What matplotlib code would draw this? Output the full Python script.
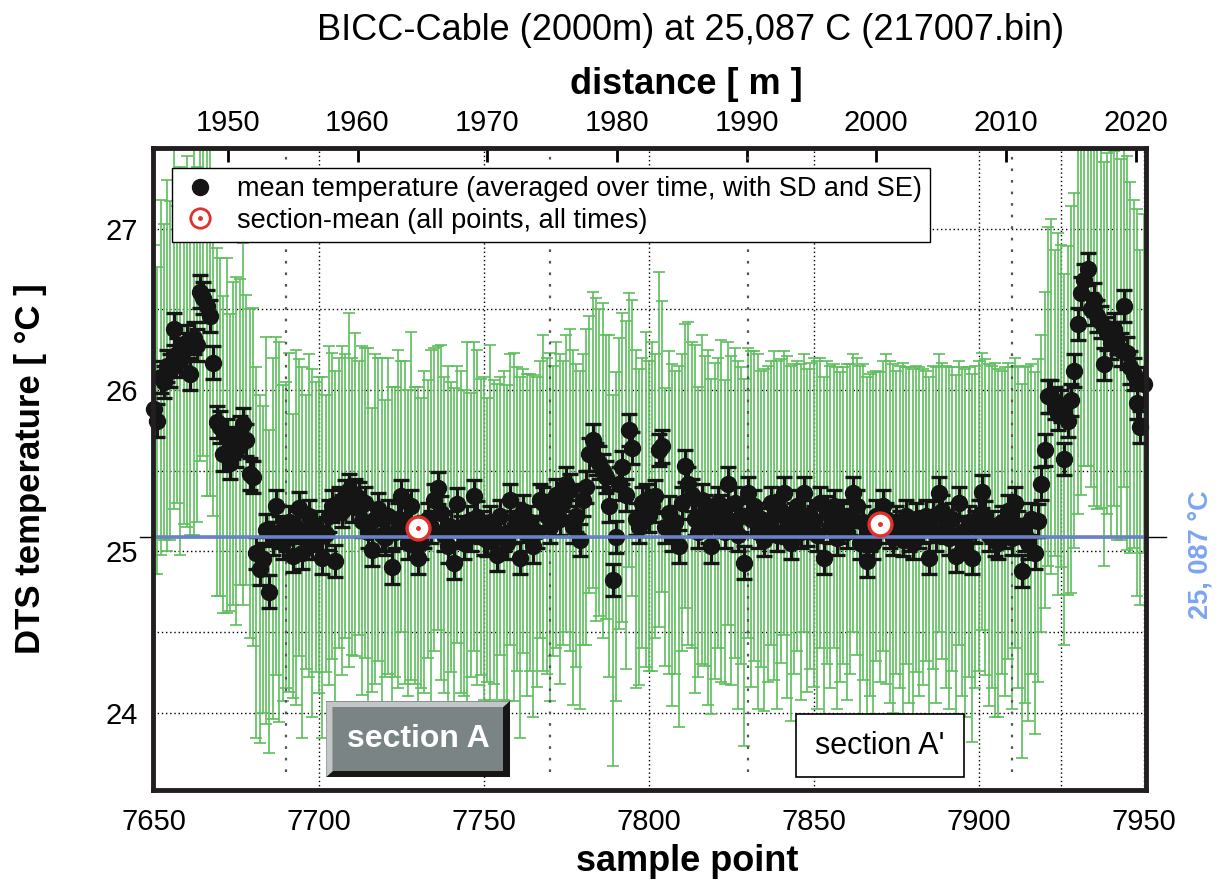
import numpy as np
import matplotlib
matplotlib.use("Agg")
import matplotlib.pyplot as plt
from matplotlib.lines import Line2D
from matplotlib.patches import Rectangle, Polygon
from matplotlib.ticker import MultipleLocator

plt.rcParams['font.family'] = ['Liberation Sans', 'DejaVu Sans']

# mean temperature per sample point, starting at sample 7650
first_sample = 7650
mean_temp = [
    25.88, 25.81, 26.08, 26.05, 26.15, 26.12, 26.38, 26.22, 26.18, 26.25,
    26.30, 26.10, 26.32, 26.28, 26.61, 26.57, 26.52, 26.46, 26.17, 25.80,
    25.77, 25.60, 25.72, 25.55, 25.67, 25.62, 25.74, 25.79, 25.69, 25.48,
    25.46, 24.99, 24.89, 24.95, 25.13, 24.75, 25.08, 25.28, 25.12, 25.05,
    25.10, 25.18, 24.97, 25.15, 25.27, 24.99, 25.12, 25.22, 25.05, 25.15,
    25.10, 24.96, 25.11, 25.22, 25.28, 24.94, 25.30, 25.25, 25.34, 25.38,
    25.28, 25.35, 25.33, 25.19, 25.30, 25.12, 25.01, 25.20, 25.26, 25.10,
    25.08, 25.22, 24.90, 25.12, 25.20, 25.34, 25.18, 25.05, 25.28, 25.10,
    24.96, 25.05, 25.12, 25.20, 25.15, 25.32, 25.39, 25.24, 25.10, 25.03,
    25.15, 24.93, 25.29, 25.12, 25.05, 25.18, 25.10, 25.34, 25.21, 25.15,
    25.08, 25.07, 25.18, 25.12, 24.98, 25.22, 25.10, 25.05, 25.32, 25.15,
    25.20, 24.96, 25.25, 25.10, 25.18, 25.03, 25.12, 25.32, 25.30, 25.22,
    25.15, 25.25, 25.35, 25.20, 25.30, 25.42, 25.38, 25.15, 25.22, 25.07,
    25.32, 25.40, 25.60, 25.69, 25.57, 25.55, 25.50, 25.46, 25.28, 24.82,
    25.09, 25.42, 25.52, 25.35, 25.75, 25.64, 25.20, 25.15, 25.30, 25.32,
    25.22, 25.28, 25.34, 25.63, 25.65, 25.15, 25.24, 25.10, 25.18, 25.03,
    25.30, 25.53, 25.42, 25.35, 25.20, 25.12, 25.32, 25.25, 25.15, 25.03,
    25.19, 25.30, 25.25, 25.12, 25.42, 25.19, 25.30, 25.10, 25.22, 24.93,
    25.36, 25.20, 25.28, 25.12, 25.20, 25.07, 25.17, 25.30, 25.22, 25.10,
    25.25, 25.36, 25.15, 25.05, 25.20, 25.28, 25.12, 25.36, 25.13, 25.22,
    25.18, 25.10, 25.30, 24.96, 25.24, 25.15, 25.28, 25.08, 25.15, 25.22,
    25.12, 25.20, 25.36, 25.28, 25.05, 25.18, 24.94, 25.10, 25.05, 25.22,
    25.15, 25.28, 25.20, 25.12, 25.08, 25.18, 25.15, 25.07, 25.22, 25.10,
    25.05, 25.20, 25.12, 25.15, 25.22, 24.96, 25.21, 25.10, 25.36, 25.25,
    25.15, 25.08, 25.20, 24.97, 25.30, 25.12, 25.05, 25.18, 24.96, 25.15,
    25.22, 25.37, 25.21, 25.10, 25.15, 25.07, 25.05, 25.18, 25.12, 25.25,
    25.08, 25.30, 25.15, 24.88, 25.10, 25.05, 25.20, 24.99, 25.19, 25.42,
    25.63, 25.96, 25.96, 25.92, 25.85, 25.90, 25.57, 25.81, 25.94, 26.12,
    26.41, 26.60, 26.68, 26.75, 26.50, 26.56, 26.46, 26.42, 26.16, 26.35,
    26.29, 26.38, 26.32, 26.25, 26.52, 26.23, 26.14, 26.10, 25.92, 25.77,
    26.04,
]

# standard deviation over time (green bars)
sd_temp = [
    1.02, 0.95, 1.10, 0.98, 1.15, 1.05, 1.12, 0.92, 1.20, 1.08,
    1.15, 1.00, 1.22, 1.10, 1.05, 0.98, 1.18, 1.12, 0.95, 1.08,
    1.05, 0.98, 1.10, 0.92, 1.00, 1.08, 0.95, 1.12, 0.90, 1.02,
    1.05, 1.15, 1.08, 0.95, 1.20, 1.00, 1.12, 1.05, 1.18, 0.98,
    0.95, 1.05, 0.88, 1.10, 0.92, 1.15, 0.85, 1.00, 1.08, 0.90,
    0.98, 1.12, 0.86, 1.05, 0.95, 1.18, 0.90, 1.02, 0.88, 1.10,
    0.92, 1.00, 0.85, 1.08, 0.96, 1.14, 0.88, 1.02, 0.94, 1.10,
    0.86, 0.98, 1.12, 0.90, 1.05, 0.84, 1.00, 0.95, 1.08, 0.92,
    1.06, 0.90, 1.00, 0.86, 1.10, 0.94, 0.88, 1.04, 0.98, 1.12,
    0.90, 1.08, 0.86, 1.00, 0.95, 1.12, 0.88, 0.96, 1.04, 0.92,
    1.00, 0.88, 1.10, 0.94, 1.06, 0.86, 1.02, 0.98, 0.90, 1.08,
    0.94, 1.12, 0.88, 1.00, 0.92, 1.06, 0.96, 0.86, 1.04, 0.98,
    1.08, 0.90, 0.95, 1.02, 0.88, 0.92, 1.00, 1.10, 0.94, 1.05,
    0.90, 0.98, 0.86, 0.92, 1.00, 0.95, 1.04, 0.88, 1.06, 1.15,
    1.02, 0.90, 0.96, 1.08, 0.85, 0.92, 1.05, 0.98, 0.90, 1.04,
    0.96, 1.02, 0.88, 1.10, 0.90, 0.86, 1.00, 1.06, 0.94, 1.12,
    0.92, 0.88, 1.00, 0.95, 1.08, 0.90, 1.02, 0.96, 1.10, 1.04,
    0.98, 0.90, 1.06, 0.94, 0.88, 1.02, 0.96, 1.08, 0.92, 1.14,
    0.90, 1.04, 0.96, 1.10, 0.92, 1.06, 0.98, 0.88, 1.02, 1.08,
    0.94, 0.88, 1.06, 1.10, 0.96, 0.90, 1.04, 0.86, 1.00, 0.95,
    1.02, 1.08, 0.90, 1.12, 0.94, 1.00, 0.88, 1.06, 0.96, 0.92,
    1.04, 0.96, 0.86, 0.92, 1.10, 0.98, 1.14, 1.00, 1.06, 0.90,
    0.96, 0.90, 1.02, 1.06, 1.08, 0.94, 1.00, 1.10, 0.92, 1.04,
    1.08, 0.95, 1.02, 0.98, 0.90, 1.12, 0.94, 1.04, 0.86, 0.92,
    1.00, 1.06, 0.94, 1.12, 0.88, 1.02, 1.08, 0.96, 1.14, 1.00,
    0.96, 0.86, 0.98, 1.06, 1.00, 1.10, 1.08, 0.94, 1.02, 0.92,
    1.06, 0.90, 1.00, 1.16, 1.04, 1.10, 0.96, 1.12, 1.00, 0.92,
    0.98, 1.05, 1.10, 0.95, 1.12, 1.00, 1.15, 1.08, 1.20, 1.10,
    1.18, 1.25, 1.15, 1.22, 1.10, 1.28, 1.20, 1.15, 1.25, 1.12,
    1.20, 1.10, 1.25, 1.18, 1.12, 1.22, 1.15, 1.08, 1.20, 1.10,
    1.05,
]

se_temp = 0.10          # half length of the black bars
ref_temp = 25.087       # overall mean, blue line

sections = [(7690, 7770), (7830, 7910)]
section_mean = [25.145, 25.17]
section_names = ["section A", "section A'"]

dist_ticks = [1950, 1960, 1970, 1980, 1990, 2000, 2010, 2020]
# sample 7672.4 corresponds to 1950 m, 0.2544 m per sample
dist_ref_sample = 7672.4
dist_ref_m = 1950
m_per_sample = 0.2544

samples = np.arange(first_sample, first_sample + len(mean_temp))

fig = plt.figure(figsize=(12.26, 8.85), dpi=100)
ax = fig.add_axes([0.1248, 0.1073, 0.8099, 0.7255])

# SD bars
ax.errorbar(samples, mean_temp, yerr=sd_temp, fmt='none', ecolor='#5cbf5c',
            elinewidth=1.2, capsize=4, capthick=1.2, zorder=2)

# mean with SE bars
eb = ax.errorbar(samples, mean_temp, yerr=se_temp, fmt='o', ms=11.5,
                 color='#151515', ecolor='#151515', elinewidth=2.4,
                 capsize=6, capthick=2.4, zorder=4)
eb[0].set_clip_on(False)

# reference line
ax.axhline(ref_temp, xmin=-0.013, xmax=1.02, color='k', lw=1.0,
           clip_on=False, zorder=5)
ax.axhline(ref_temp, color='#6a80c8', lw=2.6, zorder=6)

# section bounds and section means
for (a, b), m in zip(sections, section_mean):
    ax.vlines([a, b], 23.63, 27.46, colors='#555555', lw=1.6,
              linestyles=(0, (1.2, 4)), zorder=3)
    c = (a + b) / 2
    ax.plot(c, m, 'o', ms=16.5, mfc='white', mec='#e2302c', mew=2.4, zorder=8)
    ax.plot(c, m, 'o', ms=2.5, color='#e2302c', zorder=9)

ax.set_xlim(7649.7, 7950.7)
ax.set_ylim(23.52, 27.5)
ax.xaxis.set_major_locator(MultipleLocator(50))
ax.yaxis.set_major_locator(MultipleLocator(1))
ax.yaxis.set_minor_locator(MultipleLocator(0.5))
ax.grid(True, which='both', axis='y', color='k', lw=1.0, ls=(0, (1, 2)), zorder=1)
ax.grid(True, which='major', axis='x', color='k', lw=1.0, ls=(0, (1, 2)), zorder=1)
ax.axvline(7925, color='k', lw=1.0, ls=(0, (1, 2)), zorder=1)
ax.set_axisbelow(True)

ax.tick_params(axis='x', which='both', length=0, labelsize=21, pad=13)
ax.tick_params(axis='y', which='both', length=0, labelsize=21, pad=11)
for sp in ax.spines.values():
    sp.set_linewidth(3.5)
    sp.set_color('#231f20')
    sp.set_zorder(7)

# distance axis on top
secax = ax.secondary_xaxis(
    'top',
    functions=(lambda s: dist_ref_m + (s - dist_ref_sample) * m_per_sample,
               lambda d: dist_ref_sample + (d - dist_ref_m) / m_per_sample))
secax.set_xticks(dist_ticks)
secax.tick_params(direction='in', length=10, width=2, labelsize=21, pad=8)
secax.spines['top'].set_visible(False)

# legend
h1 = Line2D([], [], ls='none', marker='o', ms=11.5, color='#151515')
h2a = Line2D([], [], ls='none', marker='o', ms=14, mfc='white',
             mec='#e2302c', mew=2)
h2b = Line2D([], [], ls='none', marker='o', ms=2.5, color='#e2302c')
leg = ax.legend([h1, (h2a, h2b)],
                ['mean temperature (averaged over time, with SD and SE)',
                 'section-mean (all points, all times)'],
                loc='upper left', bbox_to_anchor=(172 / 1226, 1 - 168 / 885),
                bbox_transform=fig.transFigure, fontsize=19.5, frameon=True,
                fancybox=False, edgecolor='k', framealpha=1, borderpad=0.3,
                labelspacing=0.2, handlelength=1.5, handletextpad=0.6,
                borderaxespad=0)
leg.get_frame().set_linewidth(1.0)
leg.set_zorder(10)

# section A box (bevelled button)
(a, b) = sections[0]
c = (a + b) / 2
x0, x1, y0, y1 = c - 27.8, c + 27.8, 23.60, 24.07
bx, by = 2.0, 0.037
ax.add_patch(Rectangle((x0, y0), x1 - x0, y1 - y0, fc='#161616', ec='none', zorder=11))
ax.add_patch(Polygon([(x0, y1), (x1, y1), (x1 - bx, y1 - by), (x0 + bx, y1 - by),
                      (x0 + bx, y0 + by), (x0, y0)], closed=True,
                     fc='#c2c6c7', ec='none', zorder=12))
ax.add_patch(Rectangle((x0 + bx, y0 + by), x1 - x0 - 2 * bx, y1 - y0 - 2 * by,
                       fc='#7b8485', ec='none', zorder=13))
ax.text(c, (y0 + y1) / 2, section_names[0], color='white', fontsize=23,
        fontweight='bold', ha='center', va='center', zorder=14)

# section A' box
(a, b) = sections[1]
c = (a + b) / 2
x0, x1, y0, y1 = c - 25.4, c + 25.4, 23.60, 23.99
ax.add_patch(Rectangle((x0, y0), x1 - x0, y1 - y0, fc='white', ec='k',
                       lw=1.2, zorder=11))
ax.text(c, (y0 + y1) / 2, section_names[1], color='k', fontsize=22,
        ha='center', va='center', zorder=14)

# texts
fig.text(0.563, 0.966, 'BICC-Cable (2000m) at 25,087 C (217007.bin)',
         fontsize=26, ha='center', va='center')
fig.text(0.5595, 0.904, 'distance [ m ]', fontsize=26, fontweight='bold',
         ha='center', va='center')
fig.text(0.5604, 0.026, 'sample point', fontsize=26, fontweight='bold',
         ha='center', va='center')
fig.text(0.025, 0.471, 'DTS temperature [ °C ]', fontsize=25,
         fontweight='bold', rotation=90, ha='center', va='center')
fig.text(0.979, 0.373, '25, 087 °C', fontsize=19.5, fontweight='bold',
         color='#7ba4f2', rotation=90, ha='center', va='center')

fig.savefig('out.png', dpi=100)
